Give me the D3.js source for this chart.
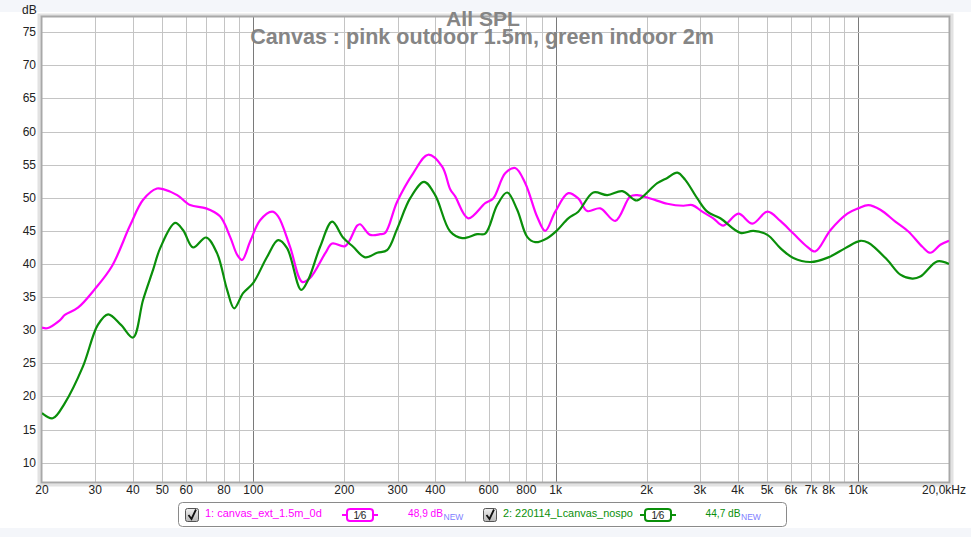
<!DOCTYPE html>
<html><head><meta charset="utf-8">
<script src="https://cdn.jsdelivr.net/npm/d3@7"></script>
<style>
html,body{margin:0;padding:0;background:#f4f6fa;}
svg{display:block;font-family:"Liberation Sans",Arial,sans-serif;}
</style></head>
<body><svg id="chart" width="971" height="537"></svg>
<script>
// ---- data ----
const pinkFreq = [20,20.8,22.9,23.8,26.3,29.9,34.1,39.1,43.2,48.0,50.3,56.0,61.8,69.8,77.6,83.8,88.4,91.8,97.6,105.3,115.4,120.8,132.3,145,154.1,172.8,182.3,201.2,220.5,225.6,243.5,262.7,273,299,337.8,378.7,421.4,447.9,465.3,513.8,584.8,621.5,680.9,734.9,793.3,869.3,923.9,997,1101,1188,1272,1405,1575,1765,1862,2055,2340,2644,2831,3055,3322,3585,4021,4474,5016,5536,6113,6799,7227,8104,9222,10026,10822,11858,13290,14673,16326,17353,18725,20000];
const pinkDb   = [30.4,30.3,31.5,32.3,33.4,36.2,39.7,45.8,49.7,51.4,51.3,50.4,48.9,48.4,47.2,44.1,41.4,40.6,43.4,46.6,47.9,47.2,42.6,37.3,37.9,41.6,43.1,42.7,45.8,46.0,44.4,44.5,44.7,49.4,53.7,56.5,54.7,51.3,50.2,46.9,49.2,49.9,53.7,54.5,52.2,47.1,45.0,47.9,50.7,49.9,48.0,48.4,46.5,50.2,50.4,49.9,49.1,48.8,48.9,47.9,46.9,45.8,47.6,46.1,47.9,46.5,44.6,42.6,41.9,45.1,47.6,48.4,48.9,48.2,46.4,44.9,42.6,41.7,42.9,43.5];
const greenFreq = [20,21.7,23.8,27.3,30.6,33.1,36.5,40.0,43.2,46.6,49.2,55.1,58.6,63.2,69.8,75.9,81.9,86.4,92.5,99.8,111.1,120.8,129.3,143.9,151.8,166.3,182.3,198,213.9,234.4,256.8,277,299,330,367,399.5,447.9,490.8,550,585,640.7,691,746,805,856,938,1012,1101,1188,1332,1482,1661,1806,1862,2168,2340,2526,2684,2941,3174,3505,4083,4508,5016,5536,6113,6957,7980,9082,10180,10822,12508,13808,15127,16079,18302,20000];
const greenDb   = [17.5,16.7,19.0,24.5,30.8,32.4,30.8,28.9,34.6,39.1,42.4,46.2,45.1,42.5,44.0,41.6,36.1,33.3,35.6,37.1,41.1,43.6,42.4,36.1,37.6,42.6,46.4,44.0,42.6,41.0,41.7,42.1,45.3,49.9,52.4,50.4,44.9,43.9,44.5,44.6,48.9,50.8,48.2,44.1,43.3,43.9,45.1,46.9,47.9,50.8,50.4,51.0,49.8,49.6,52.2,53.0,53.8,52.7,49.9,47.9,46.9,44.7,45.0,44.4,42.4,40.9,40.3,41.0,42.4,43.5,43.2,40.6,38.4,37.8,38.1,40.4,40.0];
const xTickValues = [20,30,40,50,60,80,100,200,300,400,600,800,1000,2000,3000,4000,5000,6000,7000,8000,10000,20000];
const xTickLabels = ["20","30","40","50","60","80","100","200","300","400","600","800","1k","2k","3k","4k","5k","6k","7k","8k","10k","20,0kHz"];
const yTickValues = [10,15,20,25,30,35,40,45,50,55,60,65,70,75];
const majorFreqs = [100,1000,10000];
const titleLine1 = "All SPL";
const titleLine2 = "Canvas : pink outdoor 1.5m, green indoor 2m";
const legendNames = ["1: canvas_ext_1.5m_0d","2: 220114_Lcanvas_nospo"];
const legendLevels = ["48,9 dB","44,7 dB"];
const seriesColors = ["#ff00ff","#0a8f0a"];

// ---- layout ----
const svg = d3.select("#chart");
const L=42, R=949, T=17, B=482;
const x = d3.scaleLog().domain([20,20000]).range([L,R]);
const y = d3.scaleLinear().domain([7.08,77.3]).range([B,T]);

svg.append("rect").attr("x",0).attr("y",12).attr("width",971).attr("height",516).attr("fill","#ffffff");

// plot frame shadow
svg.append("rect").attr("x",L-3).attr("y",T-2).attr("width",R-L+6).attr("height",B-T+5)
  .attr("fill","none").attr("stroke","#e2e2e2").attr("stroke-width",3);
svg.append("rect").attr("x",L).attr("y",T).attr("width",R-L).attr("height",B-T).attr("fill","#fff");

// grid
const gridFreqs = [];
[10,100,1000,10000].forEach(d=>{for(let k=1;k<10;k++){const f=d*k; if(f>20&&f<20000) gridFreqs.push(f);} });
const g = svg.append("g");
g.selectAll("line.v").data(gridFreqs).join("line")
  .attr("x1",d=>Math.round(x(d))+0.5).attr("x2",d=>Math.round(x(d))+0.5)
  .attr("y1",T).attr("y2",B)
  .attr("stroke",d=>majorFreqs.includes(d)?"#7a7a7a":"#c4c4c4").attr("stroke-width",1);
g.selectAll("line.h").data(yTickValues).join("line")
  .attr("x1",L).attr("x2",R)
  .attr("y1",d=>Math.round(y(d))+0.5).attr("y2",d=>Math.round(y(d))+0.5)
  .attr("stroke","#c4c4c4").attr("stroke-width",1);

// frame
svg.append("rect").attr("x",L-0.5).attr("y",T-0.5).attr("width",R-L+1).attr("height",B-T+1)
  .attr("fill","none").attr("stroke","#a8a8a8").attr("stroke-width",2);

// y axis labels
svg.append("g").selectAll("text").data(yTickValues).join("text")
  .attr("x",36).attr("y",d=>y(d)+4).attr("text-anchor","end")
  .attr("font-size",12).attr("fill","#222").text(d=>d);
svg.append("text").attr("x",22).attr("y",14).attr("font-size",12).attr("fill","#222").text("dB");

// x axis labels
svg.append("g").selectAll("text").data(xTickValues).join("text")
  .attr("x",(d,i)=> i===xTickValues.length-1 ? 966 : x(d))
  .attr("y",494)
  .attr("text-anchor",(d,i)=> i===xTickValues.length-1 ? "end":"middle")
  .attr("font-size",12).attr("fill","#222").text((d,i)=>xTickLabels[i]);

// titles
function fitText(sel,w){const m=sel.node().getComputedTextLength(); const fs=+sel.attr("font-size"); sel.attr("font-size",fs*w/m);}
const t1 = svg.append("text").attr("x",483).attr("y",26).attr("text-anchor","middle")
  .attr("font-size",19).attr("font-weight","bold").attr("fill","#858585").text(titleLine1);
fitText(t1,74);
const t2 = svg.append("text").attr("x",482).attr("y",44).attr("text-anchor","middle")
  .attr("font-size",19).attr("font-weight","bold").attr("fill","#858585").text(titleLine2);
fitText(t2,464);

// curves
svg.append("clipPath").attr("id","pc").append("rect").attr("x",L).attr("y",T).attr("width",R-L).attr("height",B-T);
const line = d3.line().x(d=>x(d[0])).y(d=>y(d[1])).curve(d3.curveCatmullRom.alpha(0.5));
const series = [d3.zip(pinkFreq,pinkDb), d3.zip(greenFreq,greenDb)];
svg.append("g").attr("clip-path","url(#pc)").selectAll("path").data(series).join("path")
  .attr("d",line).attr("fill","none").attr("stroke",(d,i)=>seriesColors[i]).attr("stroke-width",2.2)
  .attr("stroke-linejoin","round");

// legend
const lg = svg.append("g");
lg.append("rect").attr("x",178.5).attr("y",502.5).attr("width",608).attr("height",24).attr("rx",4)
  .attr("fill","#fff").attr("stroke","#8a8a8a");
const legX = [185,483];
const nameW = [117,130];
const grad = svg.append("defs").append("linearGradient").attr("id","cb").attr("x1",0).attr("y1",0).attr("x2",0).attr("y2",1);
grad.append("stop").attr("offset","0%").attr("stop-color","#f0f0f0");
grad.append("stop").attr("offset","100%").attr("stop-color","#b8b8b8");
legX.forEach((bx,i)=>{
  const c = seriesColors[i];
  lg.append("rect").attr("x",bx+0.5).attr("y",508.5).attr("width",13).attr("height",13).attr("rx",2)
    .attr("fill","url(#cb)").attr("stroke","#555");
  lg.append("path").attr("d",`M${bx+3.5},${515} L${bx+6.5},${519} L${bx+11},${509.5}`)
    .attr("fill","none").attr("stroke","#111").attr("stroke-width",1.8);
  const nt = lg.append("text").attr("x",bx+20).attr("y",516.5).attr("font-size",12).attr("fill",c).text(legendNames[i]);
  fitText(nt,nameW[i]);
  const badgeX = i===0 ? 343 : 641;
  lg.append("line").attr("x1",badgeX-1).attr("x2",badgeX+35).attr("y1",515).attr("y2",515).attr("stroke",c).attr("stroke-width",2);
  lg.append("rect").attr("x",badgeX+4).attr("y",509).attr("width",26).attr("height",12).attr("rx",3)
    .attr("fill","#fff").attr("stroke",c).attr("stroke-width",2);
  lg.append("text").attr("x",badgeX+17).attr("y",519).attr("text-anchor","middle").attr("font-size",10).attr("fill","#222").text("1⁄6");
  const lvX = i===0 ? 443 : 740.5;
  const lt = lg.append("text").attr("x",lvX).attr("y",516.5).attr("text-anchor","end").attr("font-size",12).attr("fill",c).text(legendLevels[i]);
  fitText(lt,35);
  lg.append("text").attr("x",lvX+0.5).attr("y",519.5).attr("font-size",8.5).attr("fill","#8080ff").text("NEW");
});
</script></body></html>
